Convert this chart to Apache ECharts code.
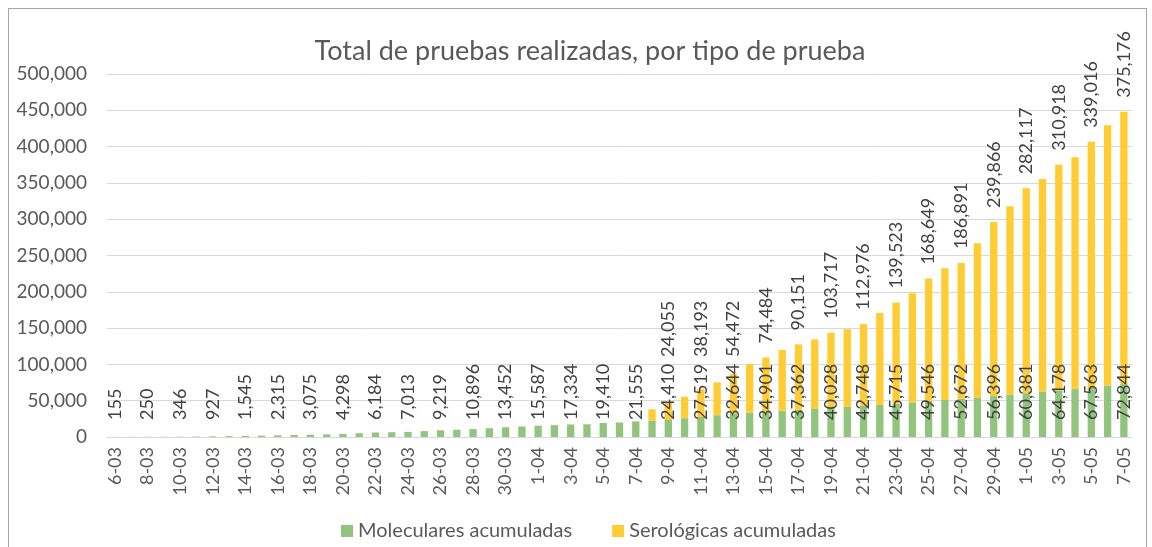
<!DOCTYPE html>
<html>
<head>
    <meta charset="utf-8">
    <title>Total de pruebas realizadas</title>
    <script src="https://cdn.jsdelivr.net/npm/echarts@6/dist/echarts.min.js"></script>
    <style>
        body { margin: 0; background: #fff; }
        #frame { position: absolute; left: 8px; top: 8px; width: 1137px; height: 560px; border: 1px solid #a6a6a6; }
        #main { position: absolute; left: 0; top: 0; width: 1152px; height: 547px; }
    </style>
</head>
<body>
<div id="frame"></div>
<div id="main"></div>
<script type="text/javascript">
    // fechas (dia-mes)
    var categories = [
        '6-03','7-03','8-03','9-03','10-03','11-03','12-03','13-03','14-03','15-03',
        '16-03','17-03','18-03','19-03','20-03','21-03','22-03','23-03','24-03','25-03',
        '26-03','27-03','28-03','29-03','30-03','31-03','1-04','2-04','3-04','4-04',
        '5-04','6-04','7-04','8-04','9-04','10-04','11-04','12-04','13-04','14-04',
        '15-04','16-04','17-04','18-04','19-04','20-04','21-04','22-04','23-04','24-04',
        '25-04','26-04','27-04','28-04','29-04','30-04','1-05','2-05','3-05','4-05',
        '5-05','6-05','7-05'
    ];

    // pruebas moleculares acumuladas
    var moleculares = [
        155, 200, 250, 300, 346, 600, 927, 1200, 1545, 1900,
        2315, 2700, 3075, 3600, 4298, 5200, 6184, 6600, 7013, 8100,
        9219, 10000, 10896, 12100, 13452, 14500, 15587, 16400, 17334, 17500,
        19410, 20000, 21555, 22800, 24410, 25900, 27519, 30000, 32644, 33700,
        34901, 36200, 37362, 38700, 40028, 41400, 42748, 44200, 45715, 47600,
        49546, 51000, 52672, 54500, 56396, 58500, 60381, 62500, 64178, 66000,
        67563, 70500, 72844
    ];

    // pruebas serologicas acumuladas
    var serologicas = [
        0, 0, 0, 0, 0, 0, 0, 0, 0, 0,
        0, 0, 0, 0, 0, 0, 0, 0, 0, 0,
        0, 0, 0, 0, 0, 0, 0, 0, 0, 0,
        0, 0, 0, 15300, 24055, 29600, 38193, 45300, 54472, 66800,
        74484, 83800, 90151, 95800, 103717, 107000, 112976, 126800, 139523, 150400,
        168649, 181500, 186891, 212500, 239866, 259500, 282117, 292700, 310918, 319300,
        339016, 358800, 375176
    ];

    var FONT = 'Lato, "Open Sans", sans-serif';
    var TXT = '#595959';
    var EJE_Y = 547 - 110;   // pixel del cero

    function fmt(v) {
        return String(v).replace(/\B(?=(\d{3})+(?!\d))/g, ',');
    }

    // solo cada dos dias lleva etiqueta
    function etiqueta(p) {
        if (p.dataIndex % 2 !== 0 || !p.value) return '';
        return fmt(p.value);
    }

    var myChart = echarts.init(document.getElementById('main'));

    var option = {
        animation: false,
        title: {
            text: 'Total de pruebas realizadas, por tipo de prueba',
            left: 585,
            textAlign: 'center',
            top: 33,
            textStyle: { fontFamily: FONT, fontSize: 27, fontWeight: 'normal', color: TXT }
        },
        legend: {
            top: 516,
            left: 336,
            itemWidth: 12,
            itemHeight: 12,
            itemGap: 40,
            icon: 'rect',
            textStyle: { fontFamily: FONT, fontSize: 20, color: TXT },
            data: ['Moleculares acumuladas', 'Serológicas acumuladas']
        },
        grid: { left: 107, right: 20, top: 74, bottom: 110 },
        xAxis: {
            type: 'category',
            data: categories,
            axisTick: { show: false },
            axisLine: { lineStyle: { color: '#d9d9d9', width: 1 } },
            axisLabel: {
                interval: 1,
                rotate: 90,
                margin: 10,
                fontFamily: FONT,
                fontSize: 18,
                color: TXT
            }
        },
        yAxis: {
            type: 'value',
            min: 0,
            max: 500000,
            interval: 50000,
            axisLine: { show: false },
            axisTick: { show: false },
            splitLine: { lineStyle: { color: '#d9d9d9', width: 1 } },
            axisLabel: {
                margin: 20,
                fontFamily: FONT,
                fontSize: 19,
                color: TXT,
                formatter: function (v) { return fmt(v); }
            }
        },
        series: [
            {
                name: 'Moleculares acumuladas',
                type: 'bar',
                stack: 'total',
                barWidth: '45%',
                itemStyle: { color: '#93c47d' },
                label: {
                    show: true,
                    position: 'insideBottom',
                    rotate: 90,
                    align: 'left',
                    verticalAlign: 'middle',
                    distance: 17,
                    fontFamily: FONT,
                    fontSize: 18,
                    color: '#404040',
                    formatter: etiqueta
                },
                data: moleculares
            },
            {
                name: 'Serológicas acumuladas',
                type: 'bar',
                stack: 'total',
                barWidth: '45%',
                itemStyle: { color: '#ffcc33' },
                label: {
                    show: true,
                    position: 'top',
                    rotate: 90,
                    align: 'left',
                    verticalAlign: 'middle',
                    distance: 14,
                    fontFamily: FONT,
                    fontSize: 18,
                    color: '#404040',
                    formatter: etiqueta
                },
                // mantener las etiquetas por encima de las de moleculares
                // (la etiqueta esta girada: dx local apunta hacia arriba)
                labelLayout: function (p) {
                    var limite = EJE_Y - 80;
                    var abajo = p.labelRect.y + p.labelRect.height;
                    if (abajo > limite) return { dx: abajo - limite };
                    return {};
                },
                data: serologicas
            }
        ]
    };

    myChart.setOption(option);
</script>
</body>
</html>
